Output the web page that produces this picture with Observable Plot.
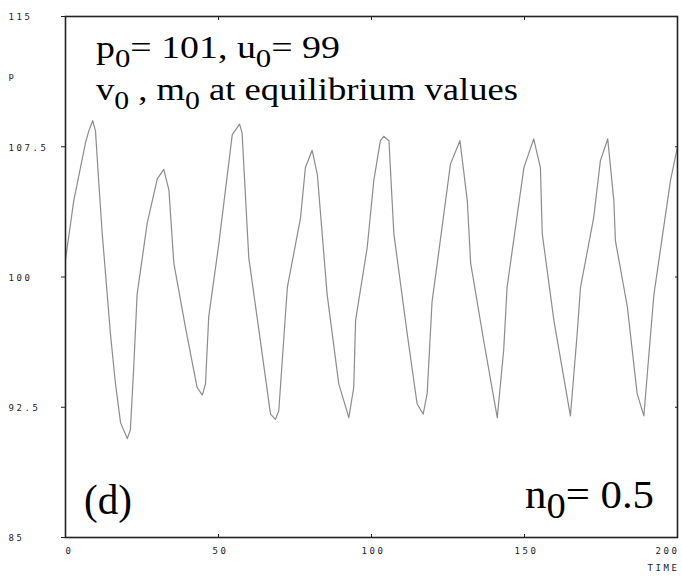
<!DOCTYPE html>
<html><head><meta charset="utf-8">
<script src="https://cdn.jsdelivr.net/npm/d3@7"></script>
<script src="https://cdn.jsdelivr.net/npm/@observablehq/plot@0.6"></script>
<style>
body{margin:0;background:#fff} svg{display:block}
</style>
</head><body><div id="chart"></div>
<script>
const time = [0,2.7,4.9,6.5,7.6,8.9, 9.8,10.9,12.0,14.7,16.3,18.0,20.2, 21.2,22.3,23.4,26.7,30.0,32.1, 33.8,35.4,39.2,43.0,44.7, 45.75,46.8,50.1,54.5,56.9, 57.7,59.9,62.6,67.0,68.6, 69.7,72.5,76.8,78.4,80.6, 82.3,85.5,89.3,92.6, 94.2,94.8,98.6,100.75,102.9,104.0, 105.7,107.3,111.7,114.9,116.9, 118.2,119.8,121.5,125.8,128.9, 131.3,132.4,136.7,141.1, 143.2,144.3,149.8,153.0, 155.2,155.8,159.6,165.0, 167.2,168.3,172.6,174.8,177.2, 179.2,179.7,183.6,186.8,189.0, 191.2,192.3,197.7,200];
const price = [101.0,104.4,106.3,107.7,108.4,109.0, 108.4,105.4,102.5,96.7,93.9,91.6,90.7, 91.2,94.8,99.0,103.1,105.65,106.2, 105.0,100.8,97.1,93.65,93.2, 93.85,97.7,101.9,108.2,108.8, 108.3,101.1,97.7,92.1,91.8, 92.3,99.4,103.4,106.3,107.3, 105.9,99.0,93.85,91.9, 93.65,97.5,101.7,105.55,107.85,108.1, 107.85,102.5,96.7,92.7,92.1, 93.3,98.6,100.8,106.5,107.85, 104.4,100.8,96.3,91.9, 95.8,99.4,106.3,107.95, 106.3,102.5,97.5,92.0, 96.7,99.4,103.4,106.7,107.95, 104.4,102.1,98.3,93.3,92.0, 96.7,99.0,105.55,107.5];
const xTicks = [0, 50, 100, 150, 200];
const yTicks = [85, 92.5, 100, 107.5, 115];
const xLabel = "TIME";
const yLabel = "p";

const data = time.map((t, i) => ({t, p: price[i]}));
const tickFont = {fontFamily: "DejaVu Sans Mono", fontSize: 9, fill: "#222"};
const fmt = d => String(d);

const plot = Plot.plot({
  width: 682, height: 576,
  marginLeft: 65, marginRight: 5, marginTop: 16, marginBottom: 39,
  x: {domain: [0, 200]},
  y: {domain: [85, 115]},
  style: {background: "#fff", fontSize: "9px", color: "#222"},
  marks: [
    Plot.line(data, {x: "t", y: "p", stroke: "#8c8c8c", strokeWidth: 1.2}),
    Plot.frame({stroke: "#222", strokeWidth: 1.6}),
    Plot.axisY({ticks: yTicks, anchor: "left", tickSize: 4, tickFormat: () => "", label: null}),
    Plot.axisY({ticks: yTicks, anchor: "left", tickSize: 0, tickPadding: 0, textAnchor: "start", dx: -57, dy: 1, tickFormat: fmt, label: null, ...tickFont}),
    Plot.axisY({ticks: yTicks, anchor: "right", tickSize: -3, tickFormat: () => "", label: null}),
    Plot.axisX({ticks: xTicks, anchor: "bottom", tickSize: -3, tickFormat: () => "", label: null}),
    Plot.axisX({ticks: xTicks, anchor: "top", tickSize: -3, tickFormat: () => "", label: null}),
    Plot.axisX({ticks: xTicks.slice(1, -1), anchor: "bottom", tickSize: 0, tickPadding: 10, dx: 2, tickFormat: fmt, label: null, ...tickFont}),
    Plot.axisX({ticks: [xTicks[0]], anchor: "bottom", tickSize: 0, tickPadding: 10, textAnchor: "start", tickFormat: fmt, label: null, ...tickFont}),
    Plot.axisX({ticks: [xTicks[xTicks.length - 1]], anchor: "bottom", tickSize: 0, tickPadding: 10, textAnchor: "end", dx: 2, tickFormat: fmt, label: null, ...tickFont}),
    Plot.text([xLabel], {frameAnchor: "bottom-right", dy: 33, textAnchor: "end", dx: 2, ...tickFont}),
    Plot.text([yLabel], {frameAnchor: "top-left", dx: -57, dy: 56, textAnchor: "start", ...tickFont})
  ]
});

document.getElementById("chart").appendChild(plot);

const svg = d3.select(plot);
svg.selectAll("text").filter(function() {
  return (this.getAttribute("font-family") || this.parentNode.getAttribute("font-family") || "").includes("Mono");
}).style("letter-spacing", "2.6px");

// Annotations with subscripts (real text)
function addText(x, y, size, parts, length) {
  const t = svg.append("text").attr("x", x).attr("y", y)
    .attr("text-anchor", "start").attr("font-family", "Liberation Serif, serif")
    .attr("font-size", size).attr("fill", "#000");
  if (length) t.attr("textLength", length).attr("lengthAdjust", "spacingAndGlyphs");
  let shift = 0;
  parts.forEach(([s, sub]) => {
    const ts = t.append("tspan").text(s);
    if (sub) {
      ts.attr("font-size", sub.size).attr("dy", sub.dy - shift);
      shift = sub.dy;
    } else if (shift) {
      ts.attr("dy", -shift);
      shift = 0;
    }
  });
}
const subTop = {size: 26, dy: 9};
addText(96, 58, 32, [["p"], ["0", subTop], ["= 101, u"], ["0", subTop], ["= 99"]], 244);
addText(96, 100, 32, [["v"], ["0", subTop], [" , m"], ["0", subTop], [" at equilibrium values"]], 422);
addText(84, 514, 42, [["(d)"]], 48);
addText(525, 508, 40, [["n"], ["0", {size: 36, dy: 10}], ["= 0.5"]], 129);
</script>
</body></html>
